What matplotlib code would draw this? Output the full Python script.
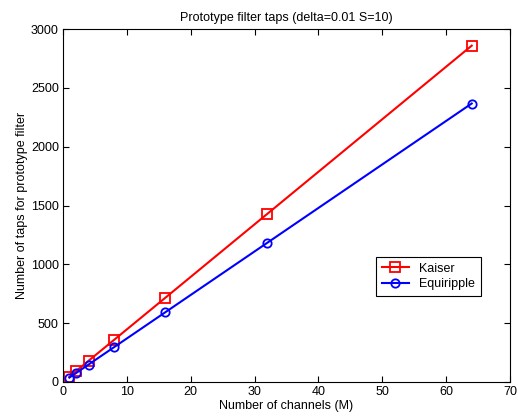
import numpy as np
import matplotlib
matplotlib.use('Agg')
import matplotlib.pyplot as plt

# data
channels = [1, 2, 4, 8, 16, 32, 64]
kaiser_taps = [45, 90, 180, 358, 715, 1430, 2860]
equiripple_taps = [37, 74, 148, 296, 592, 1184, 2368]

plt.rcParams['font.family'] = ['Liberation Sans', 'DejaVu Sans']
plt.rcParams['font.size'] = 9

fig = plt.figure(figsize=(5.18, 4.17), dpi=100)
ax = fig.add_axes([0.1216, 0.084, 0.863, 0.846])

ax.plot(channels, kaiser_taps, '-s', color='red', lw=1.5, ms=7,
        mfc='none', mew=1.3, label='Kaiser')
ax.plot(channels, equiripple_taps, '-o', color='blue', lw=1.5, ms=6,
        mfc='none', mew=1.3, label='Equiripple')

ax.set_xlim(0, 70)
ax.set_ylim(0, 3000)
ax.set_xticks(np.arange(0, 71, 10))
ax.set_yticks(np.arange(0, 3001, 500))
ax.tick_params(direction='in', top=True, right=True, length=4, pad=3)
for s in ax.spines.values():
    s.set_linewidth(0.8)

ax.set_title('Prototype filter taps (delta=0.01 S=10)', fontsize=9, pad=6)
ax.set_xlabel('Number of channels (M)', labelpad=1)
ax.set_ylabel('Number of taps for prototype filter', labelpad=2)

leg = ax.legend(loc='lower left', bbox_to_anchor=(0.70, 0.245), fancybox=False,
                edgecolor='black', framealpha=1, borderpad=0.45,
                handlelength=2.2, labelspacing=0.25, borderaxespad=0)
leg.get_frame().set_linewidth(0.8)

fig.savefig('out.png', dpi=100)
